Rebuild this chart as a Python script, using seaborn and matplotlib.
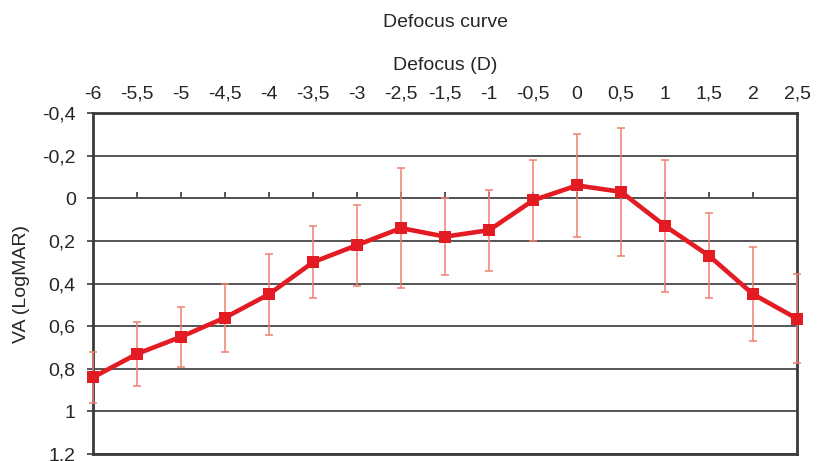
import numpy as np
import pandas as pd
import matplotlib
matplotlib.use("Agg")
import matplotlib.pyplot as plt
from matplotlib.ticker import FuncFormatter
import seaborn as sns

# data
defocus = ["-6", "-5,5", "-5", "-4,5", "-4", "-3,5", "-3", "-2,5", "-1,5",
           "-1", "-0,5", "0", "0,5", "1", "1,5", "2", "2,5"]
va = [0.84, 0.73, 0.65, 0.56, 0.45, 0.30, 0.22, 0.14, 0.18,
      0.15, 0.01, -0.06, -0.03, 0.13, 0.27, 0.45, 0.565]
va_sd = [0.12, 0.15, 0.14, 0.16, 0.19, 0.17, 0.19, 0.28, 0.18,
         0.19, 0.19, 0.24, 0.30, 0.31, 0.20, 0.22, 0.21]
y_ticks = [-0.4, -0.2, 0, 0.2, 0.4, 0.6, 0.8, 1.0, 1.2]

sns.set_theme(style="white")
plt.rcParams["font.family"] = ["Liberation Sans", "DejaVu Sans"]

df = pd.DataFrame({"defocus": defocus, "va": va, "sd": va_sd})

fig = plt.figure(figsize=(8.19, 4.61), dpi=100)
ax = fig.add_axes([0.1136, 0.015, 0.8596, 0.74])

line_col = "#e31b23"
err_col = "#f08070"
grid_col = "#555555"
fs = 14

ax.errorbar(df["defocus"], df["va"], yerr=df["sd"], fmt="none",
            ecolor=err_col, elinewidth=1.1, capsize=3, capthick=1.1,
            zorder=3, clip_on=False)
sns.lineplot(data=df, x="defocus", y="va", ax=ax, color=line_col,
             linewidth=3.3, marker="s", markersize=8.5, markeredgewidth=0,
             zorder=4, clip_on=False)

ax.set_xlim(0, len(defocus) - 1)
ax.set_ylim(1.2, -0.4)
ax.set_yticks(y_ticks)
ax.yaxis.set_major_formatter(
    FuncFormatter(lambda v, p: f"{round(v, 2):g}".replace(".", ",") if abs(v) > 1e-9 else "0"))

ax.xaxis.tick_top()
ax.xaxis.set_label_position("top")
ax.tick_params(axis="x", top=False, bottom=False, labelsize=fs, pad=1.5)
ax.tick_params(axis="y", left=True, length=4.5, width=1.2, color="#3a3a3a",
               labelsize=fs, pad=8)

ax.grid(axis="y", color=grid_col, linewidth=1.4)
ax.set_axisbelow(True)
for s in ax.spines.values():
    s.set_color("#3a3a3a")
    s.set_linewidth(2)

ax.set_xlabel("Defocus (D)", fontsize=fs, labelpad=11.5)
ax.set_ylabel("VA (LogMAR)", fontsize=fs, labelpad=9)
ax.set_title("Defocus curve", fontsize=fs, pad=62)

# category axis crossing at VA = 0, with small ticks above the line
sec = ax.secondary_xaxis(0, transform=ax.transData)
sec.set_xticks(range(1, len(defocus) - 1))
sec.tick_params(axis="x", direction="in", length=4, width=1.2,
                color="#3a3a3a", labelbottom=False, labeltop=False)
sec.spines["bottom"].set_color(grid_col)
sec.spines["bottom"].set_linewidth(1.4)

fig.savefig("out.png", dpi=100)
